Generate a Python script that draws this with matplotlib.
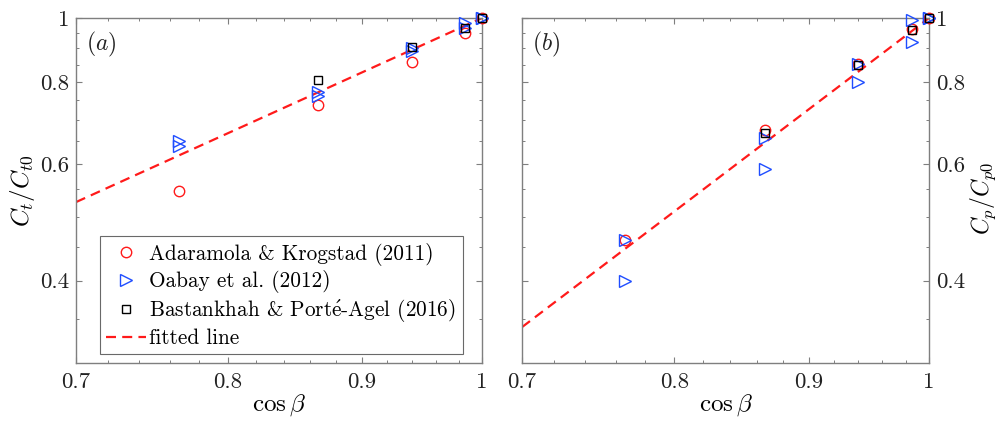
import matplotlib
matplotlib.use("Agg")
import matplotlib.pyplot as plt
from matplotlib.ticker import FixedLocator, NullFormatter, FixedFormatter

# ---- data ----
cosb_ada = [1.0, 0.985, 0.940, 0.866, 0.766]
ct_ada = [1.0, 0.948, 0.859, 0.738, 0.547]
cp_ada = [1.0, 0.961, 0.851, 0.677, 0.461]

cosb_oab = [1.0, 1.0, 0.985, 0.985, 0.940, 0.940, 0.866, 0.866, 0.766, 0.766]
ct_oab = [1.0, 1.0, 0.982, 0.965, 0.902, 0.891, 0.772, 0.761, 0.652, 0.640]
cp_oab = [1.0, 1.0, 0.993, 0.921, 0.851, 0.801, 0.659, 0.590, 0.461, 0.400]

cosb_bas = [1.0, 0.985, 0.940, 0.866]
ct_bas = [1.0, 0.965, 0.905, 0.805]
cp_bas = [1.0, 0.960, 0.850, 0.669]

fit_x = [0.7, 1.0]
fit_ct = [0.526, 1.0]
fit_cp = [0.340, 1.0]

xticks = [0.7, 0.8, 0.9, 1.0]
xticklabels = ["0.7", "0.8", "0.9", "1"]
yticks = [0.4, 0.6, 0.8, 1.0]
yticklabels = ["0.4", "0.6", "0.8", "1"]
xminor = [0.72, 0.74, 0.76, 0.78, 0.82, 0.84, 0.86, 0.88, 0.92, 0.94, 0.96, 0.98]
yminor = [0.35, 0.45, 0.5, 0.55, 0.65, 0.7, 0.75, 0.85, 0.9, 0.95]

labels = ["Adaramola & Krogstad (2011)", "Oabay et al. (2012)",
          r"Bastankhah & Port$\mathrm{\acute{e}}$-Agel (2016)", "fitted line"]

plt.rcParams['font.family'] = ['cmr10', 'DejaVu Serif']
plt.rcParams['mathtext.fontset'] = 'cm'
plt.rcParams['axes.unicode_minus'] = False

RED = '#ff1a1a'
BLUE = '#1f4dff'
GRAY = '#7f7f7f'

fig = plt.figure(figsize=(9.97, 4.22), dpi=100)
ax1 = fig.add_axes([76/997, 59/422, 406/997, 345/422])
ax2 = fig.add_axes([522/997, 59/422, 407/997, 345/422])

def style(ax, right=False):
    ax.set_xscale('log')
    ax.set_yscale('log')
    ax.set_xlim(0.7, 1.0)
    ax.set_ylim(0.3, 1.0)
    ax.xaxis.set_major_locator(FixedLocator(xticks))
    ax.xaxis.set_major_formatter(FixedFormatter(xticklabels))
    ax.xaxis.set_minor_locator(FixedLocator(xminor))
    ax.xaxis.set_minor_formatter(NullFormatter())
    ax.yaxis.set_major_locator(FixedLocator(yticks))
    ax.yaxis.set_major_formatter(FixedFormatter(yticklabels))
    ax.yaxis.set_minor_locator(FixedLocator(yminor))
    ax.yaxis.set_minor_formatter(NullFormatter())
    ax.tick_params(which='both', direction='in', top=True, right=True,
                   color=GRAY, labelsize=16.5, labelcolor='#222222')
    ax.tick_params(axis='x', pad=7)
    ax.tick_params(axis='y', pad=5)
    ax.tick_params(which='major', length=4.5, width=0.8)
    ax.tick_params(which='minor', length=2.5, width=0.7)
    if right:
        ax.yaxis.tick_right()
        ax.tick_params(which='both', left=True, right=True)
        ax.yaxis.set_label_position('right')
    for s in ax.spines.values():
        s.set_color(GRAY)
        s.set_linewidth(1.0)
    ax.set_xlabel(r'$\cos\beta$', fontsize=18, labelpad=0)

style(ax1)
style(ax2, right=True)

for ax, yada, yoab, ybas, yfit in [(ax1, ct_ada, ct_oab, ct_bas, fit_ct),
                                   (ax2, cp_ada, cp_oab, cp_bas, fit_cp)]:
    ax.plot(cosb_ada, yada, 'o', ms=7.5, mfc='none', mec=RED, mew=1.0,
            label=labels[0], clip_on=False, zorder=3)
    ax.plot(cosb_oab, yoab, '>', ms=8, mfc='none', mec=BLUE, mew=1.0,
            label=labels[1], clip_on=False, zorder=3)
    ax.plot(cosb_bas, ybas, 's', ms=5.5, mfc='none', mec='black', mew=1.0,
            label=labels[2], clip_on=False, zorder=3)
    ax.plot(fit_x, yfit, '--', color=RED, lw=1.6, dashes=(4.5, 2.8),
            label=labels[3], zorder=2)

ax1.set_ylabel(r'$C_t/C_{t0}$', fontsize=18, labelpad=2)
ax2.set_ylabel(r'$C_p/C_{p0}$', fontsize=17)
ax2.yaxis.set_label_coords(1.098, 0.478)

ax1.text(0.025, 0.905, r'$(a)$', transform=ax1.transAxes, fontsize=17, color='#222222')
ax2.text(0.025, 0.905, r'$(b)$', transform=ax2.transAxes, fontsize=17, color='#222222')

leg = ax1.legend(loc='lower left', bbox_to_anchor=(0.058, 0.025), fontsize=15.3,
                 frameon=True, fancybox=False, edgecolor='#444444',
                 handlelength=1.9, handletextpad=0.15, borderpad=0.3,
                 labelspacing=0.2, borderaxespad=0.0)
leg.get_frame().set_linewidth(0.8)

fig.savefig('out.png', dpi=100)
